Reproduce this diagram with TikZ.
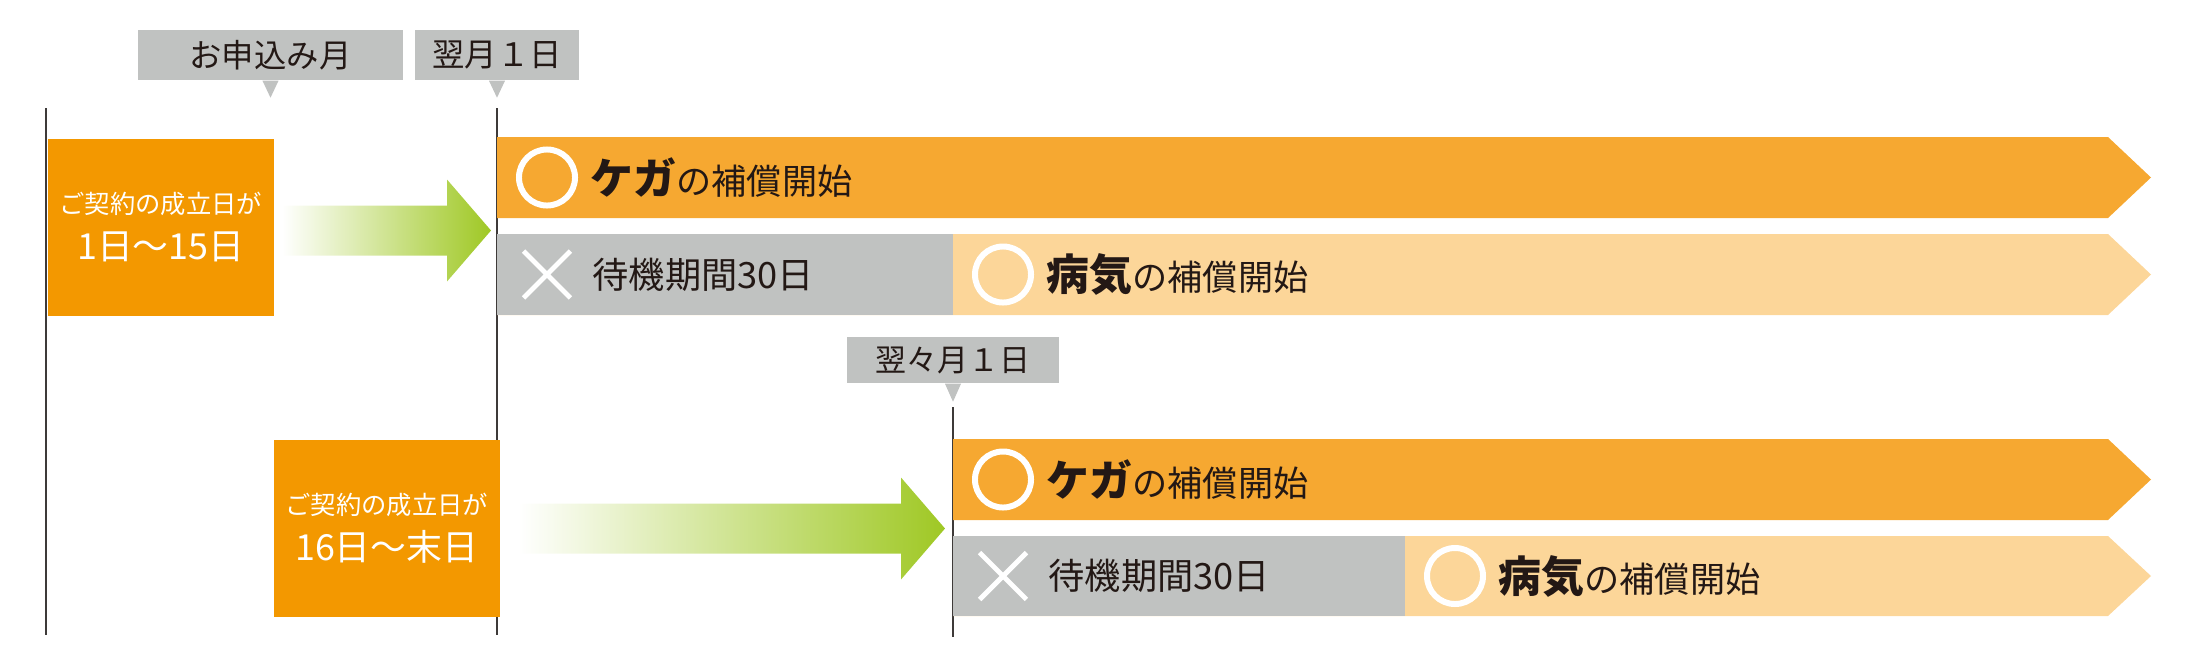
\documentclass[tikz,border=0pt]{standalone}
\usepackage{fontspec}
\setmainfont{Noto Sans CJK JP}
\usetikzlibrary{shapes.misc}

\definecolor{boxorange}{HTML}{F39800}
\definecolor{barorange}{HTML}{F6A831}
\definecolor{paleorange}{HTML}{FCD699}
\definecolor{waitgray}{HTML}{C0C2C1}
\definecolor{agreen}{HTML}{9FC824}
\definecolor{ink}{HTML}{231815}
\definecolor{rule}{HTML}{3E3A39}

\newcommand{\ribbon}[4]{\fill[#1] (#2,#3) -- (2108,#3) -- (2151,{(#3+#4)/2}) -- (2108,#4) -- (#2,#4) -- cycle;}
\newcommand{\greenarrow}[3]{\shade[left color=white,right color=agreen] (#1,#3-25) -- (#2-44,#3-25) -- (#2-44,#3-51) -- (#2,#3) -- (#2-44,#3+51) -- (#2-44,#3+25) -- (#1,#3+25) -- cycle;}
\newcommand{\startline}[1]{{\bfseries\fontsize{12.2}{14}\selectfont #1}{\fontsize{10}{12}\selectfont の補償開始}}

\begin{document}
\begin{tikzpicture}[x=0.01cm,y=-0.01cm,
    tagbox/.style={fill=waitgray,text=ink,inner sep=0,minimum height=0.5cm,font=\fontsize{9.2}{11}\selectfont},
    orbox/.style={fill=boxorange,text=white,inner sep=0,anchor=north west,minimum width=2.26cm,minimum height=1.77cm,align=center},
    okmark/.style={circle,draw=white,line width=1.7pt,minimum size=0.56cm,inner sep=0},
    ngmark/.style={cross out,draw=white,line width=1.4pt,minimum size=0.42cm,inner sep=0},
    inktext/.style={text=ink,anchor=west,inner sep=0},
    rulestyle/.style={rule,line width=0.5pt}]
  \useasboundingbox (0,0) rectangle (2187,663);

  % date tags
  \node[tagbox,minimum width=2.65cm] (apply) at (270.5,55) {お申込み月};
  \fill[waitgray] ([xshift=-0.8mm]apply.south) -- ([xshift=0.8mm]apply.south) -- ([yshift=-1.7mm]apply.south) -- cycle;
  \node[tagbox,minimum width=1.64cm] (next) at (497,55) {翌月１日};
  \fill[waitgray] ([xshift=-0.8mm]next.south) -- ([xshift=0.8mm]next.south) -- ([yshift=-1.7mm]next.south) -- cycle;
  \node[tagbox,minimum width=2.12cm,minimum height=0.46cm,font=\fontsize{8.8}{10}\selectfont] (after) at (953,360) {翌々月１日};
  \fill[waitgray] ([xshift=-0.8mm]after.south) -- ([xshift=0.8mm]after.south) -- ([yshift=-1.8mm]after.south) -- cycle;

  % time rules
  \draw[rulestyle] (46,108) -- (46,635);
  \draw[rulestyle] (497,108) -- (497,635);
  \draw[rulestyle] (953,407) -- (953,637);

  % contract boxes
  \node[orbox] (early) at (47,138) {{\fontsize{7.2}{10}\selectfont ご契約の成立日が}\\[1pt]{\fontsize{10.2}{12}\selectfont 1日～15日}};
  \node[orbox] (late) at (273,439) {{\fontsize{7.2}{10}\selectfont ご契約の成立日が}\\[1pt]{\fontsize{10.2}{12}\selectfont 16日～末日}};
  \greenarrow{282}{491}{230.5}
  \greenarrow{519}{945}{528.5}

  % cover from next month
  \ribbon{barorange}{497}{137}{218}
  \ribbon{paleorange}{497}{234}{315}
  \fill[waitgray] (497,234) rectangle (953,315);
  \node[okmark] (ok1) at (547,177.5) {};
  \node[inktext] (kega1) at (590,177.5) {\startline{ケガ}};
  \node[ngmark] (ng1) at (547,274.5) {};
  \node[inktext,font=\fontsize{10.3}{12}\selectfont] (wait1) at (592,274.5) {待機期間30日};
  \node[okmark] (ok2) at (1003,274.5) {};
  \node[inktext] (sick1) at (1046,274.5) {\startline{病気}};

  % cover from the month after next
  \ribbon{barorange}{953}{439}{520}
  \ribbon{paleorange}{953}{536}{616}
  \fill[waitgray] (953,536) rectangle (1405,616);
  \node[okmark] (ok3) at (1003,479.5) {};
  \node[inktext] (kega2) at (1046,479.5) {\startline{ケガ}};
  \node[ngmark] (ng2) at (1003,576) {};
  \node[inktext,font=\fontsize{10.3}{12}\selectfont] (wait2) at (1048,576) {待機期間30日};
  \node[okmark] (ok4) at (1455,576) {};
  \node[inktext] (sick2) at (1498,576) {\startline{病気}};
\end{tikzpicture}
\end{document}
